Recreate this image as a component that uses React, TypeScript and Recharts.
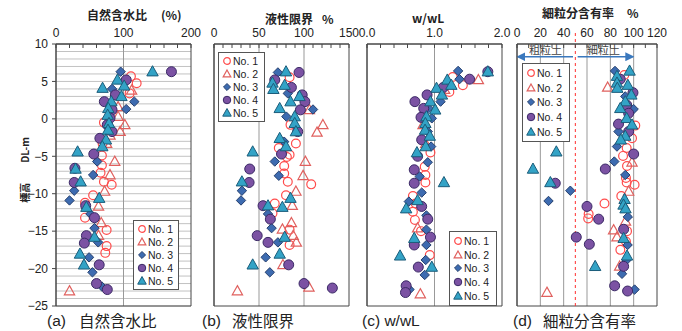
import React from "react";
import {
  CartesianGrid,
  ReferenceArea,
  ReferenceLine,
  Scatter,
  ScatterChart,
  XAxis,
  YAxis,
} from "recharts";

type Pt = [number, number]; // [value, elevation DL-m]

// (a) 自然含水比 (%)
const wn1: Pt[] = [[111, 5.7], [119.5, 4.75], [109, 3.4], [71, -0.5], [69, -3.3], [68, -4.9], [68, -6.2], [66, -7.2], [71, -8.4], [82.5, -8.8], [55, -10.2], [43, -11.2], [43, -13.2], [75, -14.85], [75, -17], [73, -17.9]];
const wn2: Pt[] = [[112, 3.8], [92, 1.6], [92, 0.3], [102, -0.8], [95, -1.7], [80, -2.2], [75, -3.3], [87, -5.7], [80, -7.5], [72, -9.7], [63, -11.7], [67, -13.9], [63, -15.6], [20, -23]];
const wn3: Pt[] = [[95.8, 6.3], [83, 4.0], [116, 2.3], [104, 1.3], [80, -1.3], [61, -5.7], [55, -7.5], [27, -9.6], [20, -10.9], [51, -12.7], [57, -14.6], [62.5, -16.5], [49, -18.5], [54, -20.5], [68, -22.4]];
const wn4: Pt[] = [[171, 6.3], [104, 5.2], [88, 3.2], [71.6, 2.3], [83, 1.2], [80, 0.1], [76, -0.8], [83, -1.7], [65, -2.6], [56, -4.7], [28, -6.6], [27, -8.5], [44, -11.6], [57, -13.2], [45, -15.6], [42, -16.6], [64, -19.5], [60, -22], [76, -22.8]];
const wn5: Pt[] = [[143, 6.3], [91, 5.2], [101, 4.4], [69, 4.1], [97, 3.0], [82, 2.3], [77.5, 1.4], [76.5, 0.5], [78.5, -0.6], [77, -1.5], [74, -2.8], [68.6, -3.7], [32, -4.4], [29, -6.7], [36.5, -8.4], [64, -10.6], [45, -11.8], [57, -15.8], [35.5, -18.05], [41.5, -19.5]];

// (b) 液性限界 (%)
const wl1: Pt[] = [[84, 5.55], [85, -0.8], [91, -3.3], [72, -3.9], [84, -4.8], [81, -5.1], [78, -6.3], [78, -7.3], [82, -8.4], [108, -8.75], [80, -10.2], [67.5, -11.3], [65, -12.6], [84, -14.8], [84, -16.85]];
const wl2: Pt[] = [[106, 1.2], [121, -0.8], [114.5, -1.8], [101.5, -5.7], [99, -7.6], [91, -9.7], [87, -11.6], [86, -13.9], [76, -14.75], [88, -15.6], [91.5, -16.5], [76.6, -19.5], [105.5, -22.5], [26, -23]];
const wl3: Pt[] = [[71, 6.2], [82, 3.4], [110, 1.25], [80.4, 0.3], [78, -3.05], [67.5, -5.7], [72, -7.6], [31, -9.6], [30, -10.9], [60, -12.7], [64, -14.6], [71, -16.5], [57.4, -18.5], [62, -20.5]];
const wl4: Pt[] = [[94.5, 6.2], [67.5, 5.2], [86, 4.2], [98, 3.2], [101, 2.3], [96, 1.2], [93, -1.7], [75, -4.7], [39.7, -6.7], [39, -8.5], [54.5, -11.6], [62.6, -13.4], [48, -15.6], [60, -16.5], [83, -19.5], [100, -22], [131.5, -22.6]];
const wl5: Pt[] = [[80, 6.3], [65, 4.8], [78.5, 4.5], [66, 3.95], [95, 3.0], [85, 2.3], [73, 1.4], [89.7, 0.3], [89.7, -0.6], [91, -1.7], [73, -2.6], [80, -3.7], [43, -4.4], [31, -8.4], [85, -10.6], [60, -11.6], [76, -11.8], [78.5, -15.8], [73, -18.05], [43, -19.5]];

// (c) w/wL
const ratio1: Pt[] = [[1.27, 5.6], [1.42, 4.5], [1.22, 3.6], [0.94, -4.5], [0.855, -6.4], [0.865, -7.5], [0.865, -8.5], [0.68, -10.3], [0.72, -11.3], [0.68, -12.4], [0.71, -13.5], [0.8, -15.0], [0.93, -18.2]];
const ratio2: Pt[] = [[1.65, 5.2], [1.15, 3.9], [0.83, -0.8], [0.87, -3.3], [0.75, -14.6], [0.79, -23.4]];
const ratio3: Pt[] = [[1.35, 6.4], [1.37, 5.3], [1.09, 2.3], [0.91, 1.4], [0.96, 0.07], [0.9, -1.7], [0.95, -3.7], [0.9, -5.8], [0.78, -7.7], [0.81, -9.85], [0.62, -11.05], [0.88, -12.9], [0.88, -14.8], [0.88, -16.85], [0.87, -18.85], [0.855, -20.85], [0.63, -22.8]];
const ratio4: Pt[] = [[1.79, 6.3], [1.52, 5.3], [1.13, 4.2], [0.89, 3.2], [0.71, 2.3], [0.84, 1.4], [0.8, 0.2], [0.81, -2.8], [0.75, -5.0], [0.7, -6.8], [0.7, -8.6], [0.81, -11.7], [0.9, -13.4], [0.94, -15.8], [0.7, -16.85], [0.76, -19.8], [0.58, -22.3], [0.57, -23.2]];
const ratio5: Pt[] = [[1.79, 6.3], [1.19, 5.2], [1.25, 4.5], [1.03, 4.1], [1.11, 3.2], [0.94, 2.3], [1.01, 1.2], [0.88, 0.3], [0.865, -0.6], [0.86, -1.5], [0.93, -2.3], [0.87, -3.7], [0.74, -4.5], [1.14, -8.5], [0.75, -10.9], [0.58, -12.0], [0.7, -15.95], [0.49, -18.3], [0.96, -19.8]];

// (d) 細粒分含有率 (%)
const fc1: Pt[] = [[92, 5.85], [96, 1.0], [101.4, -0.9], [98.6, -2.6], [94, -3.9], [90.9, -4.95], [94.3, -6.3], [93.4, -7.9], [94, -8.5], [100.8, -8.8], [89.4, -10.3], [75, -11.3], [61.4, -12.7], [61, -13.3], [94.3, -15], [93.4, -16.4], [88.6, -17.5]];
const fc2: Pt[] = [[77.7, 4.2], [98.6, -5.8], [95.7, -9.7], [93, -13.7], [82.8, -14.85], [85.7, -15.8], [88, -19.7], [25.7, -23.2]];
const fc3: Pt[] = [[84, 6.4], [92.8, 3.0], [100, 1.3], [87, -1.7], [85.7, -3.7], [83.4, -5.7], [92.8, -7.5], [45.7, -9.6], [27, -10.97], [95, -13.1], [94.8, -16.85], [94, -18.85], [90, -20.7], [100.8, -22.8]];
const fc4: Pt[] = [[88.5, 5.3], [99.4, 3.5], [94, 1.85], [95.7, 0.75], [87, -0.7], [95.7, -1.7], [100, -4.7], [75.7, -6.7], [32.8, -8.6], [60, -11.7], [70, -13.4], [91.4, -14.75], [50.8, -15.8], [62, -16.75], [91.4, -19.7], [83.7, -22.3], [94.8, -23]];
const fc5: Pt[] = [[96.5, 6.4], [85.7, 5.7], [85.7, 4.8], [86, 4.1], [95, 4.5], [98, 3.2], [92.8, 2.3], [88.5, 1.4], [94, 0.07], [98.6, -0.8], [92.8, -2.3], [89, -2.8], [33.7, -4.4], [13.7, -6.7], [28.6, -8.5], [92.2, -10.75], [91.3, -11.5], [93, -12], [91.4, -15.95], [94.3, -18.3], [67, -19.7]];

const elevTicks = [10, 5, 0, -5, -10, -15, -20, -25];

const ticksA = [0, 20, 40, 60, 80, 100, 120, 140, 160, 180, 200];
const labelsA = [0, 100, 200];
const ticksB = [0, 10, 20, 30, 40, 50, 60, 70, 80, 90, 100, 110, 120, 130, 140, 150];
const labelsB = [0, 50, 100, 150];
const ticksC = [0, 0.2, 0.4, 0.6, 0.8, 1, 1.2, 1.4, 1.6, 1.8, 2];
const labelsC = [0, 1, 2];
const ticksD = [0, 10, 20, 30, 40, 50, 60, 70, 80, 90, 100, 110, 120];
const labelsD = [0, 20, 40, 60, 80, 100, 120];

const FONT = '"Liberation Sans", Arial, sans-serif';
const JP = '"Noto Sans CJK JP", "Noto Sans", sans-serif';
const FRAME = "#474747";

const gridY = Array.from({ length: 36 }, (_, i) => -25 + i);

const tri = (cx: number, cy: number, s: number) =>
  `${cx},${cy - s} ${cx + s * 0.95},${cy + s * 0.7} ${cx - s * 0.95},${cy + s * 0.7}`;

const shapeNo1 = (p: any) => {
  const k = p.k ?? 1;
  return <circle cx={p.cx} cy={p.cy} r={4.4 * k} fill="none" stroke="#ff4b4b" strokeWidth={1.2} />;
};
const shapeNo2 = (p: any) => {
  const k = p.k ?? 1;
  return <polygon points={tri(p.cx, p.cy, 5.4 * k)} fill="none" stroke="#e0605e" strokeWidth={1.2} />;
};
const shapeNo3 = (p: any) => {
  const s = 4.7 * (p.k ?? 1);
  return (
    <polygon
      points={`${p.cx},${p.cy - s} ${p.cx + s},${p.cy} ${p.cx},${p.cy + s} ${p.cx - s},${p.cy}`}
      fill="#3d6bb0"
      stroke="#26406e"
      strokeWidth={1}
    />
  );
};
const shapeNo4 = (p: any) => {
  const k = p.k ?? 1;
  return <circle cx={p.cx} cy={p.cy} r={5 * k} fill="#7b52a3" stroke="#3b2a66" strokeWidth={1} />;
};
const shapeNo5 = (p: any) => {
  const k = p.k ?? 1;
  return <polygon points={tri(p.cx, p.cy, 6 * k)} fill="#33a3c6" stroke="#1b5c7a" strokeWidth={1} />;
};

const SERIES = [
  { name: "No. 1", shape: shapeNo1 },
  { name: "No. 2", shape: shapeNo2 },
  { name: "No. 3", shape: shapeNo3 },
  { name: "No. 4", shape: shapeNo4 },
  { name: "No. 5", shape: shapeNo5 },
];

const toXY = (pts: Pt[]) => pts.map(([x, y]) => ({ x, y }));

interface PanelProps {
  plotLeft: number;
  plotWidth: number;
  domain: [number, number];
  ticks: number[];
  labels: number[];
  gridX: number[];
  data: Pt[][];
  showY?: boolean;
  digits?: number;
  children?: React.ReactNode;
}

const ML = 40;
const MR = 16;

const Panel = ({ plotLeft, plotWidth, domain, ticks, labels, gridX, data, showY, digits = 0, children }: PanelProps) => (
  <div style={{ position: "absolute", left: plotLeft - ML, top: 0 }}>
    <ScatterChart
      width={plotWidth + ML + MR}
      height={331}
      margin={{ top: 24, right: MR, bottom: 25, left: 0 }}
    >
      <CartesianGrid horizontalValues={gridY} vertical={false} stroke="#c2c2c2" />
      <CartesianGrid verticalValues={gridX} horizontal={false} stroke="#999999" />
      <XAxis
        type="number"
        dataKey="x"
        orientation="top"
        domain={domain}
        ticks={ticks}
        interval={0}
        allowDataOverflow
        height={20}
        tickSize={-4}
        tickMargin={11}
        axisLine={{ stroke: FRAME }}
        tickLine={{ stroke: FRAME }}
        tick={{ fontSize: 12, fill: "#222", fontFamily: FONT }}
        tickFormatter={(v: number) => (labels.includes(v) ? v.toFixed(digits) : "")}
      />
      <YAxis
        type="number"
        dataKey="y"
        domain={[-25, 10]}
        ticks={elevTicks}
        interval={0}
        width={ML}
        tickSize={4}
        tickMargin={4}
        axisLine={{ stroke: FRAME }}
        tickLine={{ stroke: FRAME }}
        tick={showY ? { fontSize: 12, fill: "#222", fontFamily: FONT } : false}
        tickFormatter={(v: number) => String(v).replace("-", "\u2212")}
      />
      <ReferenceArea x1={domain[0]} x2={domain[1]} y1={-25} y2={10} fill="none" stroke={FRAME} strokeWidth={1} ifOverflow="visible" />
      {children}
      {SERIES.map((s, i) => (
        <Scatter key={s.name} name={s.name} data={toXY(data[i])} shape={s.shape} isAnimationActive={false} />
      ))}
    </ScatterChart>
  </div>
);

const LegendBox = ({ left, top, width, height }: { left: number; top: number; width: number; height: number }) => (
  <div
    style={{
      position: "absolute",
      left,
      top,
      width,
      height,
      boxSizing: "border-box",
      border: "1px solid #555",
      background: "#fff",
      padding: "2px 0 2px 3px",
      display: "flex",
      flexDirection: "column",
      justifyContent: "space-around",
      fontFamily: FONT,
      fontSize: 10.5,
      color: "#222",
    }}
  >
    {SERIES.map((s) => (
      <div key={s.name} style={{ display: "flex", alignItems: "center", lineHeight: "12px" }}>
        <svg width={10} height={10} style={{ overflow: "visible" }}>
          {s.shape({ cx: 5, cy: 5, k: 0.75 })}
        </svg>
        <span style={{ marginLeft: 1 }}>{s.name}</span>
      </div>
    ))}
  </div>
);

const Txt = ({ left, top, size, text, bold, color = "#222", font = JP }: any) => (
  <div
    style={{
      position: "absolute",
      left,
      top,
      fontSize: size,
      fontWeight: bold ? "bold" : "normal",
      fontFamily: font,
      color,
      whiteSpace: "pre",
      lineHeight: 1,
    }}
  >
    {text}
  </div>
);

const App = () => (
  <div style={{ position: "absolute", left: 0, top: 0, width: 682, height: 331, background: "#fff", overflow: "hidden" }}>
    <svg width={0} height={0} style={{ position: "absolute" }}>
      <defs>
        <marker id="arrowBlue" viewBox="0 0 10 10" refX="8" refY="5" markerWidth="6" markerHeight="6" orient="auto">
          <path d="M0,0 L10,5 L0,10 z" fill="#3a78bd" />
        </marker>
      </defs>
    </svg>

    <Panel plotLeft={56} plotWidth={135} domain={[0, 200]} ticks={ticksA} labels={labelsA} gridX={[100]} data={[wn1, wn2, wn3, wn4, wn5]} showY />
    <Panel plotLeft={214} plotWidth={135} domain={[0, 150]} ticks={ticksB} labels={labelsB} gridX={[50, 100]} data={[wl1, wl2, wl3, wl4, wl5]} />
    <Panel plotLeft={367} plotWidth={135} domain={[0, 2]} ticks={ticksC} labels={labelsC} gridX={[1]} data={[ratio1, ratio2, ratio3, ratio4, ratio5]} digits={1} />
    <Panel plotLeft={517} plotWidth={140} domain={[0, 120]} ticks={ticksD} labels={labelsD} gridX={[20, 40, 60, 80, 100]} data={[fc1, fc2, fc3, fc4, fc5]}>
      <ReferenceLine segment={[{ x: 50, y: -25 }, { x: 50, y: 11.6 }]} stroke="#ff3030" strokeDasharray="3 3" ifOverflow="visible" />
      <ReferenceLine segment={[{ x: 48, y: 8.3 }, { x: 1, y: 8.3 }]} stroke="#3a78bd" strokeWidth={1.5} markerEnd="url(#arrowBlue)" ifOverflow="visible" />
      <ReferenceLine segment={[{ x: 52, y: 8.3 }, { x: 99, y: 8.3 }]} stroke="#3a78bd" strokeWidth={1.5} markerEnd="url(#arrowBlue)" ifOverflow="visible" />
    </Panel>

    <Txt left={529} top={44} size={11} text="粗粒土" color="#444" />
    <Txt left={587} top={44} size={11} text="細粒土" color="#444" />

    <LegendBox left={133} top={220} width={46} height={70} />
    <LegendBox left={218} top={52} width={47} height={70} />
    <LegendBox left={449} top={231} width={48} height={75} />
    <LegendBox left={522} top={63} width={48} height={79} />

    {/* titles */}
    <Txt left={87} top={9} size={12} bold text="自然含水比" />
    <Txt left={161} top={9} size={12} bold text="(%)" />
    <Txt left={265} top={13} size={12} bold text="液性限界" />
    <Txt left={322} top={13} size={12} bold text="%" />
    <Txt left={412} top={12} size={12} bold text="w/wL" />
    <Txt left={542} top={7} size={12} bold text="細粒分含有率" />
    <Txt left={627} top={7} size={12} bold text="%" />

    {/* y title */}
    <div
      style={{
        position: "absolute",
        left: 24,
        top: 170,
        transform: "translate(-50%, -50%) rotate(-90deg)",
        fontFamily: JP,
        fontWeight: "bold",
        fontSize: 10,
        whiteSpace: "pre",
        color: "#222",
      }}
    >
      {"標高　　DL-m"}
    </div>

    {/* captions */}
    <Txt left={47} top={313} size={15.5} text="(a)" font={FONT} />
    <Txt left={79} top={313} size={15.5} text="自然含水比" />
    <Txt left={202} top={313} size={15.5} text="(b)" font={FONT} />
    <Txt left={232} top={313} size={15.5} text="液性限界" />
    <Txt left={362} top={313} size={15.5} text="(c) w/wL" font={FONT} />
    <Txt left={513} top={313} size={15.5} text="(d)" font={FONT} />
    <Txt left={543} top={313} size={15.5} text="細粒分含有率" />
  </div>
);

export default App;
